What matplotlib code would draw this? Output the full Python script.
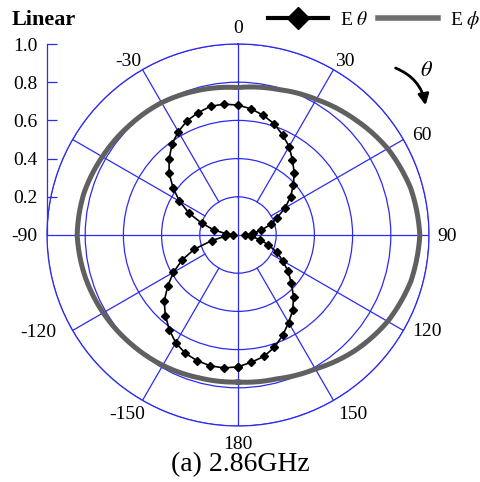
import numpy as np
import matplotlib
matplotlib.use("Agg")
import matplotlib.pyplot as plt
from matplotlib.lines import Line2D
from matplotlib.patches import FancyArrowPatch
from matplotlib.transforms import offset_copy

plt.rcParams['font.family'] = ['Liberation Serif', 'DejaVu Serif']
plt.rcParams['mathtext.fontset'] = 'stix'

# ---- data ----
etheta_angles = np.arange(-180, 181, 6)
etheta_values = [
    0.69, 0.70, 0.70, 0.692, 0.678, 0.652, 0.612, 0.568, 0.52, 0.455, 0.39,
    0.32, 0.24, 0.14, 0.07, 0.025, 0.062, 0.13, 0.20, 0.28, 0.354,
    0.42, 0.486, 0.538, 0.588, 0.625, 0.655, 0.674, 0.689, 0.689, 0.68,
    0.664, 0.64, 0.612, 0.574, 0.535, 0.485, 0.44, 0.39, 0.34, 0.285,
    0.225, 0.18, 0.125, 0.08, 0.035, 0.07, 0.12, 0.165, 0.225, 0.27,
    0.325, 0.375, 0.435, 0.487, 0.53, 0.575, 0.618, 0.65, 0.67, 0.69,
]
ephi_angles = np.arange(-180, 181, 15)
ephi_values = [
    0.77, 0.775, 0.788, 0.80, 0.815, 0.83, 0.842, 0.836, 0.82, 0.808, 0.80,
    0.785, 0.772, 0.79, 0.82, 0.86, 0.905, 0.937, 0.952, 0.937, 0.905,
    0.86, 0.81, 0.78, 0.77,
]
theta_ticks = [0, 30, 60, 90, 120, 150, 180, -150, -120, -90, -30]
theta_labels = ['0', '30', '60', '90', '120', '150', '180', '-150', '-120', '-90', '-30']
# label offsets from the end of each spoke, in pixels (x right, y down)
label_offsets = [(0, -17), (11, -10), (18, -6), (18, 0), (24, 0), (19, 13),
                 (0, 17), (-15, 13), (-34, 0), (-23, 0), (-14, -10)]
r_ticks = [0.2, 0.4, 0.6, 0.8, 1.0]
r_labels = ['0.2', '0.4', '0.6', '0.8', '1.0']
spoke_angles = [30, 60, 120, 150, -150, -120, -60, -30]
axis_angles = [0, 90, 180, -90]

BLUE = '#2b2bf0'
W, H = 481, 482
cx, cy, R = 238, 235, 191

fig = plt.figure(figsize=(W / 100, H / 100), dpi=100)
ax = fig.add_axes([(cx - R) / W, (H - cy - R) / H, 2 * R / W, 2 * R / H], projection='polar')
ax.set_theta_zero_location('N')
ax.set_theta_direction(-1)

for a in spoke_angles:
    ax.plot([np.deg2rad(a % 360)] * 2, [0.2, 1.0], color=BLUE, lw=0.9, zorder=1)
for a in axis_angles:
    ax.plot([np.deg2rad(a % 360)] * 2, [0.0, 1.0], color=BLUE, lw=0.9, zorder=1)

l_phi, = ax.plot(np.deg2rad(ephi_angles), ephi_values, color='#606060', lw=3.6,
                 zorder=3, solid_joinstyle='round')
l_phi.get_path()._interpolation_steps = 20
l_th, = ax.plot(np.deg2rad(etheta_angles), etheta_values, color='black', lw=1.2,
                marker='D', markersize=4.5, zorder=4)

ax.set_thetalim(0, 2 * np.pi)
ax.set_ylim(0, 1)
ax.set_rgrids(r_ticks, labels=[''] * len(r_ticks))
ax.set_thetagrids([t % 360 for t in theta_ticks], labels=[''] * len(theta_ticks))
ax.xaxis.grid(False)
ax.yaxis.grid(True, color=BLUE, lw=0.9)
ax.spines['polar'].set_color(BLUE)
ax.spines['polar'].set_linewidth(0.9)

for t, lab, (ox, oy) in zip(theta_ticks, theta_labels, label_offsets):
    tr = offset_copy(ax.transData, fig=fig, x=ox, y=-oy - 6, units='dots')
    ax.text(np.deg2rad(t % 360), 1.0, lab, transform=tr, ha='center',
            va='baseline', fontsize=14, clip_on=False)

# left linear scale
ax2 = fig.add_axes([(cx - R) / W, (H - cy) / H, 0.002, R / H])
ax2.set_ylim(0, 1)
ax2.patch.set_visible(False)
for s in ['top', 'right', 'bottom']:
    ax2.spines[s].set_visible(False)
ax2.spines['left'].set_color(BLUE)
ax2.spines['left'].set_linewidth(0.9)
ax2.set_xticks([])
ax2.set_yticks(r_ticks)
ax2.set_yticklabels(r_labels)
ax2.tick_params(axis='y', direction='in', length=7, color=BLUE, width=0.9,
                labelsize=14, pad=7)

fig.text(12 / W, 1 - 20 / H, 'Linear', fontsize=16, fontweight='bold', ha='left', va='center')
fig.text(240 / W, 1 - 465 / H, '(a) 2.86GHz', fontsize=20, ha='center', va='center')

handles = [Line2D([], [], color='black', lw=3, marker='D', markersize=11),
           Line2D([], [], color='#707070', lw=4)]
fig.legend(handles, [r'E $\theta$', r'E $\phi$'], ncol=2, loc='center right',
           bbox_to_anchor=(480 / W, 1 - 20 / H), frameon=False, fontsize=14,
           handlelength=3.1, handletextpad=0.6, columnspacing=0.5,
           borderpad=0, borderaxespad=0)

arrow = FancyArrowPatch(posA=(393 / W, 1 - 67 / H), posB=(426 / W, 1 - 108 / H),
                        transform=fig.transFigure, connectionstyle='arc3,rad=-0.3',
                        arrowstyle='-|>', mutation_scale=16, lw=2, color='black')
fig.add_artist(arrow)
fig.text(427 / W, 1 - 72 / H, r'$\theta$', fontsize=16, ha='center', va='center')

fig.savefig('out.png', dpi=100)
